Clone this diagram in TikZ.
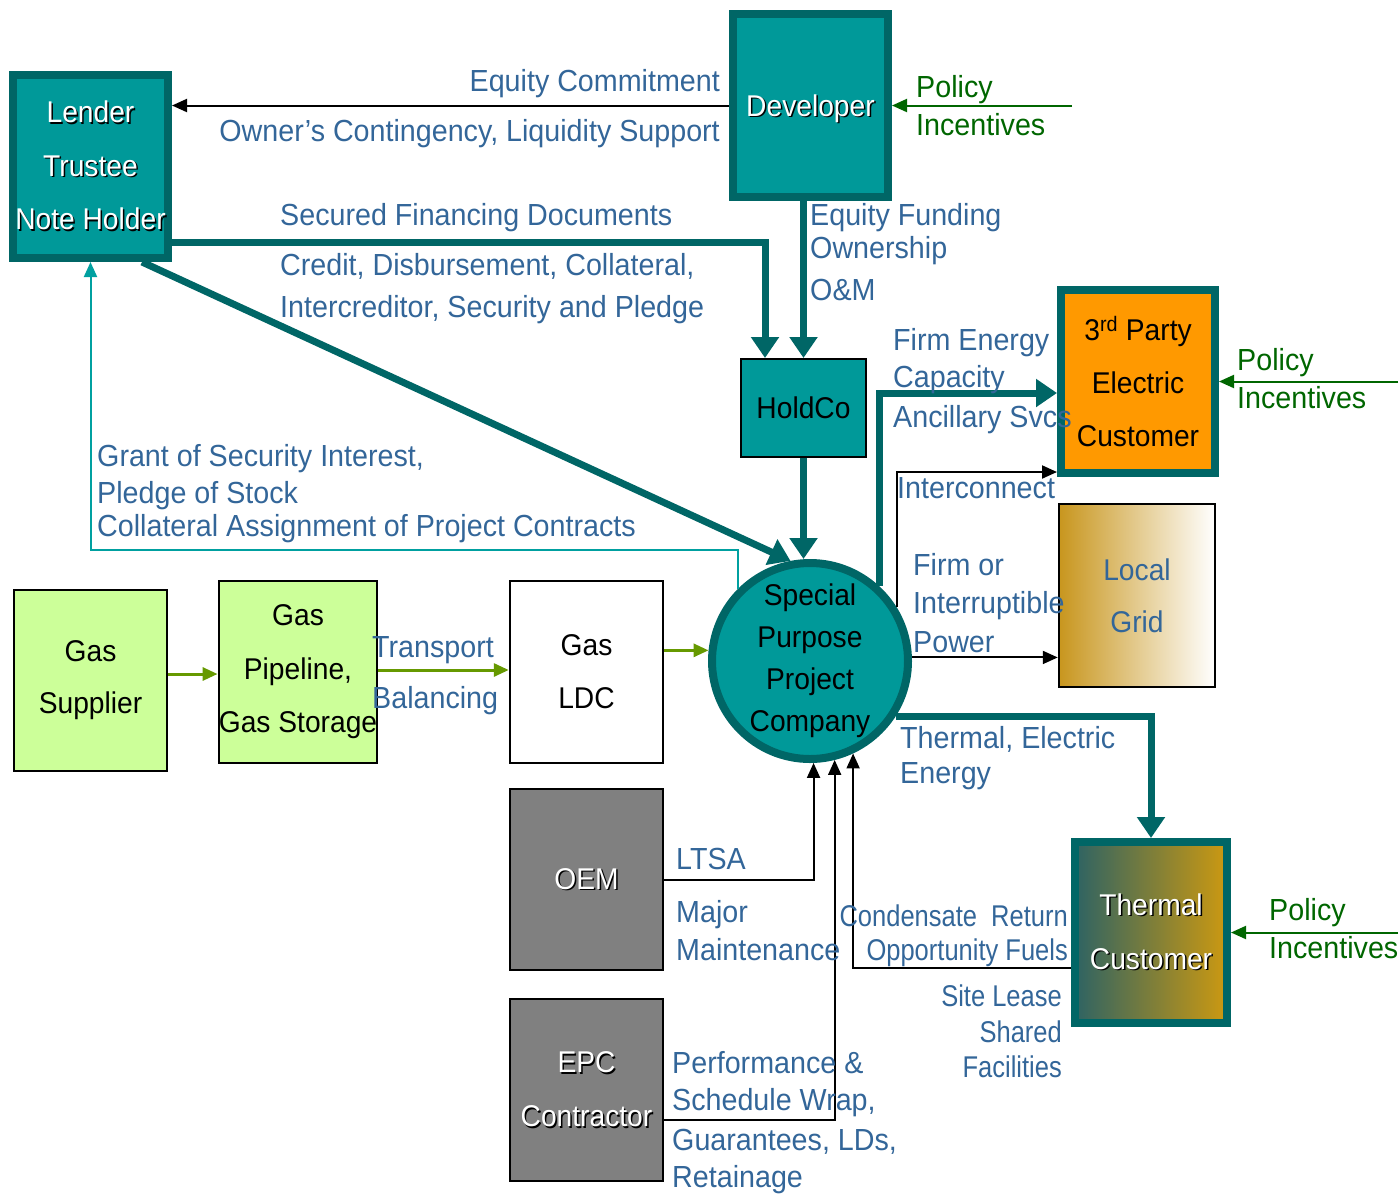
\documentclass[tikz,border=0pt]{standalone}
\usepackage{fontspec}
\setmainfont{Liberation Sans}[FakeStretch=0.94]
\newfontfamily\narrowf{Liberation Sans}[FakeStretch=0.85]
\usetikzlibrary{arrows.meta,calc}
\definecolor{tfill}{HTML}{009999}
\definecolor{tdark}{HTML}{006666}
\definecolor{lblue}{HTML}{336699}
\definecolor{polg}{HTML}{006600}
\definecolor{gasg}{HTML}{669900}
\definecolor{lgreen}{HTML}{CCFF99}
\definecolor{orng}{HTML}{FF9900}
\definecolor{grayf}{HTML}{808080}
\definecolor{gold}{HTML}{C8961E}
\definecolor{thgold}{HTML}{CC9911}
\definecolor{thteal}{HTML}{2E6363}
\definecolor{secline}{HTML}{00A0A0}
\newcommand\fz[1]{\fontsize{#1}{#1}\selectfont}
\newcommand\shd[1]{\leavevmode\rlap{\kern1.5pt\raisebox{-1.5pt}{\textcolor{black}{#1}}}\textcolor{white}{#1}}
\begin{document}
\begin{tikzpicture}[x=1pt,y=-1pt,
  lbl/.style={text=lblue, font=\fz{30.5}, inner sep=0pt, anchor=base west},
  lblr/.style={lbl, anchor=base east},
  nlbl/.style={lblr, font=\narrowf\fz{30}},
  pol/.style={text=polg, font=\fz{30.5}, inner sep=0pt, anchor=base west},
  tealbox/.style={draw=tdark, line width=8pt, fill=tfill, inner sep=0pt, align=center},
  thinbox/.style={draw=black, line width=2.5pt, inner sep=0pt, align=center},
  bigarrow/.style={draw=tdark, line width=7pt, -{Triangle[width=27pt,length=21pt]}},
  thinarrow/.style={draw=black, line width=2pt, -{Triangle[width=13pt,length=15pt]}},
  secarrow/.style={draw=secline, line width=2pt, -{Triangle[width=13pt,length=15pt]}},
  polarrow/.style={draw=polg, line width=2pt, -{Triangle[width=13pt,length=15pt]}},
  gasarrow/.style={draw=gasg, line width=3pt, -{Triangle[width=13pt,length=15pt]}}
]
\useasboundingbox (0,0) rectangle (1400,1195);

% boxes
\node[tealbox, minimum width=155pt, minimum height=183pt, font=\fontsize{30}{53.5}\selectfont] (lender) at (90.5,166.5) {\shd{Lender}\\\shd{Trustee}\\\shd{Note Holder}};
\node[tealbox, minimum width=155pt, minimum height=183pt, font=\fz{30}, text depth=0pt] (developer) at (810.5,105.5) {\shd{Developer}};
\node[draw=black, line width=2pt, fill=tfill, inner sep=0pt, minimum width=125pt, minimum height=98pt, font=\fz{30}] (holdco) at (803.5,408) {HoldCo};
\node[draw=tdark, line width=8pt, fill=orng, inner sep=0pt, align=center, minimum width=154pt, minimum height=183pt, font=\fontsize{30}{53}\selectfont] (thirdparty) at (1138,381.5) {3\textsuperscript{rd} Party\\Electric\\Customer};
\node[thinbox, left color=gold, right color=white, minimum width=156pt, minimum height=183pt, text=lblue, font=\fontsize{30}{52}\selectfont] (localgrid) at (1137,595.5) {Local\\Grid};
\node[circle, draw=tdark, line width=8pt, fill=tfill, inner sep=0pt, align=center, minimum size=196pt, font=\fontsize{30}{42}\selectfont] (sppc) at (810,661) {Special\\Purpose\\Project\\Company};
\node[thinbox, fill=lgreen, minimum width=153pt, minimum height=181pt, font=\fontsize{30}{52}\selectfont] (gsupplier) at (90.5,680.5) {Gas\\Supplier};
\node[thinbox, fill=lgreen, minimum width=154pt, minimum height=182pt, font=\fontsize{30}{53.5}\selectfont] (pipeline) at (298,672) {Gas\\Pipeline,\\Gas Storage};
\node[thinbox, fill=white, minimum width=153pt, minimum height=182pt, font=\fontsize{30}{53}\selectfont] (ldc) at (586.5,672) {Gas\\LDC};
\node[thinbox, fill=grayf, minimum width=153pt, minimum height=181pt, font=\fz{30}] (oem) at (586.5,879.5) {\shd{OEM}};
\node[thinbox, fill=grayf, minimum width=153pt, minimum height=182pt, font=\fontsize{30}{54}\selectfont] (epc) at (586.5,1090) {\shd{EPC}\\\shd{Contractor}};
\node[draw=tdark, line width=8pt, left color=thteal, right color=thgold, inner sep=0pt, align=center, minimum width=152pt, minimum height=181pt, font=\fontsize{30}{54}\selectfont] (thermal) at (1151,932.5) {\shd{Thermal}\\\shd{Customer}};

% free ends
\coordinate (pol1) at (1072,105.5);
\coordinate (pol2) at (1398,381.5);
\coordinate (pol3) at (1398,932.5);

% connectors
\draw[thinarrow] (developer.west) -- (developer.west -| lender.east);
\draw[polarrow] (pol1) -- (developer.east);
\draw[polarrow] (pol2) -- (thirdparty.east);
\draw[polarrow] (pol3) -- (thermal.east);
\draw[bigarrow] (lender.east |- 0,242) -| ([xshift=-38.5pt]holdco.north);
\draw[bigarrow] (developer.south -| holdco.north) -- (holdco.north);
\draw[bigarrow] ([xshift=-30pt]lender.south east) -- (sppc.101);
\draw[bigarrow] (holdco.south) -- (sppc.north -| holdco.south);
\draw[secarrow] (sppc.135) |- (lender.south |- 0,550) -- (lender.south);
\draw[bigarrow] (sppc.47) |- ([yshift=-11.5pt]thirdparty.west);
\draw[thinarrow] (sppc.32) |- ([yshift=5pt]thirdparty.south west);
\draw[thinarrow] (sppc.2) -- (sppc.2 -| localgrid.west);
\draw[bigarrow] (sppc.-33) -| (thermal.north);
\draw[thinarrow] (thermal.west |- 0,968) -| (sppc.-65);
\draw[thinarrow] (oem.east) -| (sppc.-88);
\draw[thinarrow] (epc.east |- 0,1120) -| (sppc.-76);
\draw[gasarrow] (gsupplier.east |- 0,674) -- (pipeline.west |- 0,674);
\draw[gasarrow] (pipeline.east |- 0,670) -- (ldc.west |- 0,670);
\draw[gasarrow] (ldc.east |- sppc.174) -- (sppc.174);

% labels
\node[lblr] (eqc) at (720,91) {Equity Commitment};
\node[lblr] (occ) at (720,141) {Owner’s Contingency, Liquidity Support};
\node[pol] (pd1) at (916,97) {Policy};
\node[pol] (id1) at (916,135) {Incentives};
\node[lbl] (sfd) at (280,225) {Secured Financing Documents};
\node[lbl] (cdc) at (280,275) {Credit, Disbursement, Collateral,};
\node[lbl] (isp) at (280,317) {Intercreditor, Security and Pledge};
\node[lbl] (eqf) at (810,225) {Equity Funding};
\node[lbl] (own) at (810,258) {Ownership};
\node[lbl] (onm) at (810,300) {O\&M};
\node[lbl] (fen) at (893,350) {Firm Energy};
\node[lbl] (capa) at (893,387) {Capacity};
\node[lbl] (anc) at (893,427) {Ancillary Svcs};
\node[pol] (pd2) at (1237,370) {Policy};
\node[pol] (id2) at (1237,408) {Incentives};
\node[lbl] (icn) at (897,498) {Interconnect};
\node[lbl] (fo) at (913,575) {Firm or};
\node[lbl] (intr) at (913,613) {Interruptible};
\node[lbl] (pow) at (913,652) {Power};
\node[lbl] (gsi) at (97,466) {Grant of Security Interest,};
\node[lbl] (pos) at (97,503) {Pledge of Stock};
\node[lbl] (cas) at (97,536) {Collateral Assignment of Project Contracts};
\node[lbl] (trn) at (372,657) {Transport};
\node[lbl] (bal) at (372,708) {Balancing};
\node[lbl] (tee) at (900,748) {Thermal, Electric};
\node[lbl] (ene) at (900,783) {Energy};
\node[lbl] (ltsa) at (676,869) {LTSA};
\node[lbl] (maj) at (676,922) {Major};
\node[lbl] (mnt) at (676,960) {Maintenance};
\node[nlbl] (cnd) at (1068,926) {Condensate\ \ Return};
\node[nlbl] (opf) at (1068,960) {Opportunity Fuels};
\node[nlbl] (sle) at (1062,1006) {Site Lease};
\node[nlbl] (shr) at (1062,1042) {Shared};
\node[nlbl] (fac) at (1062,1077) {Facilities};
\node[pol] (pd3) at (1269,920) {Policy};
\node[pol] (id3) at (1269,958) {Incentives};
\node[lbl] (prf) at (672,1073) {Performance \&};
\node[lbl] (swr) at (672,1110) {Schedule Wrap,};
\node[lbl] (gld) at (672,1150) {Guarantees, LDs,};
\node[lbl] (ret) at (672,1187) {Retainage};
\end{tikzpicture}
\end{document}
